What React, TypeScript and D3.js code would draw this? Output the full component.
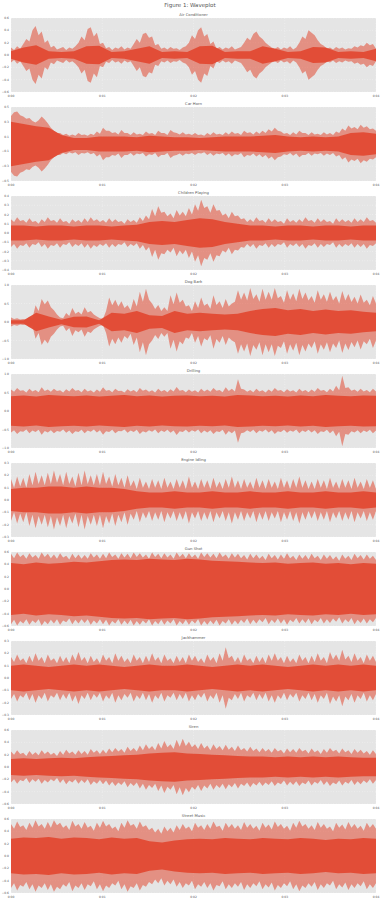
import React from "react";
import * as d3 from "d3";

const figureTitle = "Figure 1: Waveplot";
const titles = ["Air Conditioner", "Car Horn", "Children Playing", "Dog Bark", "Drilling", "Engine Idling", "Gun Shot", "Jackhammer", "Siren", "Street Music"];
const yMax = [0.6, 0.5, 0.4, 1.0, 1.0, 0.3, 0.6, 0.3, 0.6, 0.6];
const yStep = [0.2, 0.2, 0.1, 0.5, 0.5, 0.1, 0.2, 0.1, 0.2, 0.2];
const xTickSeconds = [0, 1, 2, 3, 4];
const xTickLabels = ["0:00", "0:01", "0:02", "0:03", "0:04"];

const airOuter = [0.12,0.08,0.14,0.1, 0.18,0.26,0.22,0.4,0.47,0.32,0.38,0.2,0.24, 0.12,0.15,0.09,0.11,0.13,0.08,0.12,0.1,0.14, 0.2,0.3,0.24,0.42,0.45,0.3,0.36,0.18,0.2, 0.11,0.13,0.08,0.12,0.1,0.14,0.09,0.12,0.1, 0.18,0.26,0.2,0.34,0.36,0.28,0.3,0.16,0.18, 0.1,0.12,0.09,0.13,0.1,0.11,0.08,0.12,0.14, 0.2,0.32,0.26,0.4,0.45,0.3,0.34,0.18,0.22, 0.1,0.13,0.09,0.12,0.1,0.14,0.09,0.11,0.13, 0.2,0.28,0.24,0.34,0.38,0.3,0.26,0.2,0.16, 0.12,0.1,0.13,0.09,0.12,0.1,0.14,0.09,0.12, 0.2,0.3,0.26,0.4,0.36,0.32,0.24,0.18,0.15, 0.1,0.12,0.09,0.13,0.1,0.12,0.09,0.11,0.1, 0.14,0.12,0.16,0.14,0.2,0.16,0.18,0.1];
const airCore = [0.06,0.12,0.16,0.06,0.05,0.06,0.14,0.15,0.05,0.06,0.1,0.14,0.05,0.06,0.05,0.14,0.15,0.05,0.06,0.06,0.14,0.1,0.05,0.06,0.13,0.12,0.05,0.06,0.05,0.1];
const hornOuter = [0.38,0.43,0.44,0.39,0.37,0.34,0.35,0.31,0.29,0.32,0.37,0.33,0.28,0.22,0.18,0.15,0.15,0.12,0.14,0.11,0.13,0.11,0.15,0.12,0.13,0.11,0.14,0.12,0.17,0.14,0.22,0.18,0.18,0.15,0.16,0.13,0.19,0.15,0.15,0.12,0.16,0.13,0.14,0.12,0.17,0.14,0.15,0.12,0.18,0.15,0.15,0.12,0.19,0.16,0.15,0.13,0.16,0.13,0.14,0.12,0.15,0.12,0.13,0.11,0.15,0.12,0.16,0.13,0.14,0.12,0.16,0.13,0.17,0.14,0.15,0.12,0.18,0.15,0.16,0.13,0.17,0.14,0.18,0.15,0.2,0.17,0.22,0.18,0.17,0.14,0.15,0.12,0.16,0.13,0.18,0.15,0.15,0.12,0.16,0.13,0.14,0.12,0.16,0.13,0.15,0.12,0.17,0.15,0.21,0.18,0.25,0.21,0.23,0.2,0.26,0.22,0.24,0.2,0.21,0.18];
const hornCore = [0.3,0.27,0.24,0.22,0.12,0.08,0.08,0.1,0.1,0.1,0.09,0.11,0.1,0.09,0.09,0.08,0.09,0.1,0.1,0.1,0.11,0.12,0.1,0.09,0.1,0.09,0.1,0.15,0.16,0.14];
const childOuter = [0.15,0.12,0.17,0.13,0.14,0.11,0.16,0.12,0.13,0.1,0.15,0.12,0.17,0.13,0.14,0.11,0.16,0.12,0.13,0.1,0.15,0.12,0.14,0.11,0.16,0.12,0.17,0.13,0.15,0.12,0.14,0.11,0.16,0.12,0.15,0.12,0.13,0.1,0.15,0.12,0.14,0.11,0.17,0.13,0.19,0.15,0.26,0.18,0.29,0.22,0.23,0.18,0.21,0.16,0.25,0.19,0.23,0.18,0.27,0.2,0.31,0.24,0.36,0.27,0.29,0.22,0.31,0.24,0.25,0.19,0.21,0.16,0.23,0.18,0.19,0.15,0.16,0.12,0.15,0.12,0.17,0.13,0.14,0.11,0.16,0.12,0.15,0.12,0.13,0.1,0.16,0.12,0.14,0.11,0.15,0.12,0.17,0.13,0.14,0.11,0.16,0.12,0.15,0.12,0.13,0.1,0.16,0.12,0.15,0.12,0.14,0.11,0.16,0.12,0.15,0.12,0.17,0.13,0.14,0.11];
const childCore = [0.08,0.08,0.07,0.08,0.08,0.07,0.08,0.08,0.07,0.08,0.09,0.12,0.13,0.12,0.14,0.16,0.15,0.12,0.1,0.08,0.08,0.07,0.08,0.08,0.07,0.08,0.08,0.07,0.08,0.08];
const dogOuter = [0.12,0.08,0.1,0.07,0.08,0.06,0.14,0.1,0.45,0.3,0.62,0.48,0.58,0.4,0.32,0.2,0.12,0.1,0.24,0.16,0.38,0.22,0.28,0.2,0.4,0.26,0.3,0.2,0.15,0.1,0.08,0.3,0.66,0.45,0.6,0.42,0.56,0.38,0.45,0.32,0.62,0.42,0.82,0.55,0.9,0.6,0.5,0.35,0.46,0.3,0.4,0.3,0.72,0.48,0.8,0.52,0.6,0.42,0.45,0.3,0.56,0.38,0.66,0.44,0.5,0.36,0.72,0.46,0.56,0.38,0.62,0.42,0.5,0.55,0.86,0.6,0.8,0.58,0.92,0.62,0.75,0.55,0.9,0.6,0.82,0.6,0.92,0.64,0.7,0.52,0.86,0.6,0.78,0.56,0.9,0.62,0.8,0.58,0.7,0.52,0.86,0.6,0.75,0.55,0.82,0.58,0.7,0.5,0.84,0.58,0.76,0.54,0.68,0.5,0.74,0.52,0.6,0.45,0.7,0.5];
const dogCore = [0.05,0.05,0.25,0.15,0.06,0.14,0.15,0.05,0.25,0.22,0.3,0.18,0.16,0.3,0.22,0.25,0.22,0.2,0.22,0.3,0.35,0.38,0.32,0.35,0.3,0.34,0.3,0.32,0.28,0.25];
const drillOuter = [0.58,0.52,0.62,0.55,0.56,0.5,0.6,0.53,0.57,0.51,0.64,0.54,0.58,0.52,0.6,0.54,0.56,0.5,0.59,0.53,0.62,0.55,0.57,0.51,0.6,0.53,0.56,0.5,0.58,0.52,0.64,0.55,0.57,0.51,0.6,0.54,0.55,0.5,0.59,0.53,0.57,0.51,0.62,0.55,0.58,0.52,0.56,0.5,0.6,0.53,0.57,0.51,0.59,0.53,0.65,0.55,0.57,0.51,0.58,0.52,0.56,0.5,0.6,0.53,0.58,0.52,0.62,0.55,0.57,0.51,0.64,0.54,0.6,0.53,0.86,0.6,0.58,0.52,0.57,0.51,0.6,0.53,0.56,0.5,0.58,0.52,0.62,0.55,0.57,0.51,0.59,0.53,0.56,0.5,0.6,0.53,0.57,0.51,0.58,0.52,0.62,0.55,0.57,0.51,0.6,0.53,0.68,0.56,0.95,0.62,0.64,0.55,0.58,0.52,0.6,0.53,0.57,0.51,0.6,0.53];
const drillCore = [0.4,0.42,0.39,0.43,0.41,0.4,0.42,0.39,0.41,0.43,0.4,0.42,0.39,0.41,0.42,0.4,0.41,0.39,0.43,0.42,0.4,0.41,0.39,0.42,0.4,0.43,0.41,0.4,0.42,0.41];
const engineOuter = [0.17,0.1,0.19,0.11,0.18,0.1,0.21,0.12,0.23,0.13,0.2,0.12,0.22,0.13,0.24,0.14,0.21,0.12,0.23,0.13,0.19,0.11,0.22,0.12,0.24,0.13,0.2,0.12,0.21,0.12,0.23,0.13,0.19,0.11,0.21,0.12,0.18,0.1,0.2,0.11,0.16,0.09,0.18,0.1,0.15,0.09,0.17,0.1,0.16,0.09,0.18,0.1,0.15,0.09,0.17,0.1,0.16,0.09,0.19,0.1,0.15,0.09,0.17,0.1,0.16,0.09,0.18,0.1,0.15,0.09,0.17,0.1,0.19,0.1,0.16,0.09,0.17,0.1,0.15,0.09,0.18,0.1,0.16,0.09,0.17,0.1,0.15,0.09,0.18,0.1,0.16,0.09,0.17,0.1,0.19,0.1,0.16,0.09,0.15,0.09,0.17,0.1,0.16,0.09,0.18,0.1,0.15,0.09,0.17,0.1,0.16,0.09,0.18,0.1,0.15,0.09,0.17,0.1,0.16,0.09];
const engineCore = [0.09,0.1,0.1,0.11,0.11,0.1,0.11,0.1,0.1,0.09,0.07,0.06,0.06,0.07,0.06,0.06,0.07,0.06,0.06,0.07,0.06,0.06,0.07,0.06,0.06,0.07,0.06,0.06,0.07,0.06];
const gunOuter = [0.57,0.5,0.59,0.52,0.56,0.49,0.58,0.51,0.55,0.49,0.59,0.52,0.57,0.5,0.56,0.49,0.58,0.51,0.54,0.48,0.57,0.5,0.56,0.49,0.55,0.49,0.58,0.51,0.56,0.49,0.57,0.5,0.59,0.52,0.56,0.49,0.58,0.51,0.57,0.5,0.59,0.52,0.58,0.51,0.56,0.49,0.59,0.52,0.57,0.5,0.58,0.51,0.56,0.49,0.59,0.52,0.57,0.5,0.58,0.51,0.56,0.49,0.59,0.52,0.58,0.51,0.57,0.5,0.59,0.52,0.56,0.49,0.58,0.51,0.57,0.5,0.55,0.48,0.57,0.5,0.56,0.49,0.54,0.47,0.57,0.5,0.55,0.48,0.56,0.49,0.58,0.5,0.54,0.47,0.56,0.49,0.55,0.48,0.57,0.5,0.54,0.47,0.56,0.49,0.55,0.48,0.53,0.46,0.56,0.49,0.54,0.47,0.57,0.5,0.55,0.48,0.56,0.49,0.54,0.47];
const gunCore = [0.42,0.4,0.43,0.41,0.42,0.44,0.43,0.45,0.47,0.48,0.47,0.49,0.48,0.47,0.49,0.48,0.46,0.45,0.44,0.43,0.42,0.43,0.41,0.42,0.43,0.41,0.42,0.4,0.42,0.41];
const jackOuter = [0.17,0.13,0.19,0.14,0.16,0.12,0.18,0.13,0.2,0.14,0.17,0.12,0.19,0.14,0.16,0.12,0.18,0.13,0.17,0.12,0.19,0.14,0.21,0.14,0.17,0.12,0.18,0.13,0.16,0.12,0.19,0.14,0.17,0.12,0.2,0.14,0.18,0.13,0.16,0.12,0.19,0.14,0.17,0.12,0.18,0.13,0.2,0.14,0.17,0.12,0.19,0.14,0.16,0.12,0.18,0.13,0.17,0.12,0.19,0.14,0.18,0.13,0.16,0.12,0.19,0.14,0.17,0.12,0.2,0.14,0.25,0.16,0.18,0.13,0.17,0.12,0.19,0.14,0.16,0.12,0.18,0.13,0.17,0.12,0.19,0.14,0.2,0.14,0.17,0.12,0.18,0.13,0.16,0.12,0.19,0.14,0.17,0.12,0.18,0.13,0.2,0.14,0.17,0.12,0.21,0.15,0.19,0.14,0.23,0.15,0.18,0.13,0.2,0.14,0.17,0.12,0.19,0.14,0.18,0.13];
const jackCore = [0.1,0.11,0.1,0.09,0.1,0.11,0.1,0.11,0.1,0.09,0.1,0.11,0.1,0.1,0.11,0.1,0.09,0.1,0.11,0.1,0.11,0.1,0.09,0.1,0.11,0.1,0.11,0.1,0.11,0.1];
const sirenOuter = [0.25,0.2,0.27,0.21,0.23,0.18,0.26,0.2,0.24,0.19,0.27,0.21,0.25,0.2,0.23,0.18,0.26,0.2,0.28,0.22,0.25,0.2,0.27,0.21,0.26,0.2,0.29,0.23,0.27,0.21,0.28,0.22,0.3,0.24,0.31,0.25,0.29,0.23,0.33,0.26,0.31,0.25,0.35,0.27,0.37,0.29,0.34,0.27,0.39,0.3,0.42,0.32,0.37,0.29,0.44,0.33,0.46,0.34,0.41,0.32,0.37,0.29,0.39,0.3,0.35,0.27,0.37,0.29,0.34,0.27,0.36,0.28,0.33,0.26,0.35,0.27,0.31,0.25,0.33,0.26,0.3,0.24,0.31,0.25,0.29,0.23,0.31,0.25,0.28,0.22,0.3,0.24,0.29,0.23,0.31,0.25,0.28,0.22,0.3,0.24,0.27,0.21,0.29,0.23,0.31,0.25,0.28,0.22,0.3,0.24,0.27,0.21,0.29,0.23,0.28,0.22,0.26,0.2,0.27,0.21];
const sirenCore = [0.13,0.14,0.13,0.14,0.15,0.14,0.16,0.17,0.18,0.19,0.2,0.22,0.23,0.24,0.22,0.21,0.2,0.19,0.18,0.17,0.17,0.16,0.17,0.16,0.17,0.16,0.17,0.16,0.15,0.15];
const streetOuter = [0.52,0.44,0.56,0.47,0.5,0.42,0.54,0.46,0.58,0.48,0.52,0.44,0.55,0.46,0.58,0.5,0.54,0.46,0.5,0.42,0.57,0.48,0.52,0.44,0.55,0.46,0.49,0.41,0.54,0.46,0.57,0.48,0.52,0.44,0.48,0.4,0.54,0.46,0.58,0.49,0.52,0.44,0.56,0.47,0.5,0.42,0.46,0.38,0.44,0.36,0.48,0.4,0.46,0.38,0.5,0.42,0.52,0.44,0.48,0.4,0.54,0.46,0.5,0.42,0.52,0.44,0.56,0.47,0.49,0.41,0.54,0.46,0.52,0.44,0.5,0.42,0.55,0.46,0.52,0.44,0.49,0.41,0.54,0.46,0.51,0.43,0.56,0.47,0.52,0.44,0.49,0.41,0.54,0.46,0.57,0.48,0.52,0.44,0.5,0.42,0.55,0.46,0.52,0.44,0.48,0.4,0.54,0.46,0.51,0.43,0.55,0.46,0.52,0.44,0.49,0.41,0.54,0.46,0.52,0.44];
const streetCore = [0.28,0.3,0.29,0.31,0.28,0.3,0.29,0.27,0.3,0.28,0.29,0.24,0.22,0.25,0.27,0.28,0.27,0.29,0.28,0.27,0.29,0.28,0.27,0.29,0.28,0.26,0.28,0.27,0.29,0.28];

const outers = [airOuter, hornOuter, childOuter, dogOuter, drillOuter, engineOuter, gunOuter, jackOuter, sirenOuter, streetOuter];
const cores = [airCore, hornCore, childCore, dogCore, drillCore, engineCore, gunCore, jackCore, sirenCore, streetCore];

const W = 380;
const H = 900;
const LEFT = 11;
const RIGHT = 376;
const TOP0 = 18;
const PERIOD = 89;
const PH = 74;
const RED = "#E24A33";
const TXT = "#555555";
const FONT = "DejaVu Sans, sans-serif";

function fmt(v: number) {
  return v.toFixed(1).replace("-", "\u2212");
}

function Panel({ i }: { i: number }) {
  const top = TOP0 + PERIOD * i;
  const bottom = top + PH;
  const m = yMax[i];
  const x = d3.scaleLinear().domain([0, 4]).range([LEFT, RIGHT]);
  const y = d3.scaleLinear().domain([-m, m]).range([bottom, top]);
  const ticks = d3.range(-m, m + 1e-9, yStep[i]).map((v) => Math.round(v * 100) / 100);
  const mkArea = (arr: number[]) => {
    const xi = d3.scaleLinear().domain([0, arr.length - 1]).range([0, 4]);
    return d3
      .area<number>()
      .x((_, k) => x(xi(k)))
      .y0((d) => y(-d))
      .y1((d) => y(d))
      .curve(d3.curveLinear)(arr) as string;
  };
  return (
    <g>
      <text x={(LEFT + RIGHT) / 2} y={top - 2.5} textAnchor="middle" fontSize={3.8} fill={TXT} fontFamily={FONT}>
        {titles[i]}
      </text>
      <rect x={LEFT} y={top} width={RIGHT - LEFT} height={PH} fill="#E5E5E5" />
      {ticks.map((t) => (
        <line key={"gy" + t} x1={LEFT} x2={RIGHT} y1={y(t)} y2={y(t)} stroke="#ffffff" strokeWidth={0.5} strokeDasharray="0.6,2" />
      ))}
      {xTickSeconds.map((t) => (
        <line key={"gx" + t} x1={x(t)} x2={x(t)} y1={top} y2={bottom} stroke="#ffffff" strokeWidth={0.5} strokeDasharray="0.6,2" />
      ))}
      <path d={mkArea(outers[i])} fill={RED} fillOpacity={0.55} />
      <path d={mkArea(cores[i])} fill={RED} fillOpacity={0.95} />
      {ticks.map((t) => (
        <text key={"ty" + t} x={LEFT - 2} y={y(t) + 1} textAnchor="end" fontSize={3} fill={TXT} fontFamily={FONT}>
          {fmt(t)}
        </text>
      ))}
      {xTickSeconds.map((t, k) => (
        <text key={"tx" + t} x={x(t)} y={bottom + 4.5} textAnchor="middle" fontSize={3} fill={TXT} fontFamily={FONT}>
          {xTickLabels[k]}
        </text>
      ))}
    </g>
  );
}

export default function App() {
  return (
    <svg width={W} height={H} viewBox={`0 0 ${W} ${H}`} style={{ position: "absolute", left: 0, top: 0, background: "#ffffff" }}>
      <rect x={0} y={0} width={W} height={H} fill="#ffffff" />
      <text x={W / 2} y={7} textAnchor="middle" fontSize={5.5} fill={TXT} fontFamily={FONT}>
        {figureTitle}
      </text>
      {titles.map((_, i) => (
        <Panel key={i} i={i} />
      ))}
    </svg>
  );
}
